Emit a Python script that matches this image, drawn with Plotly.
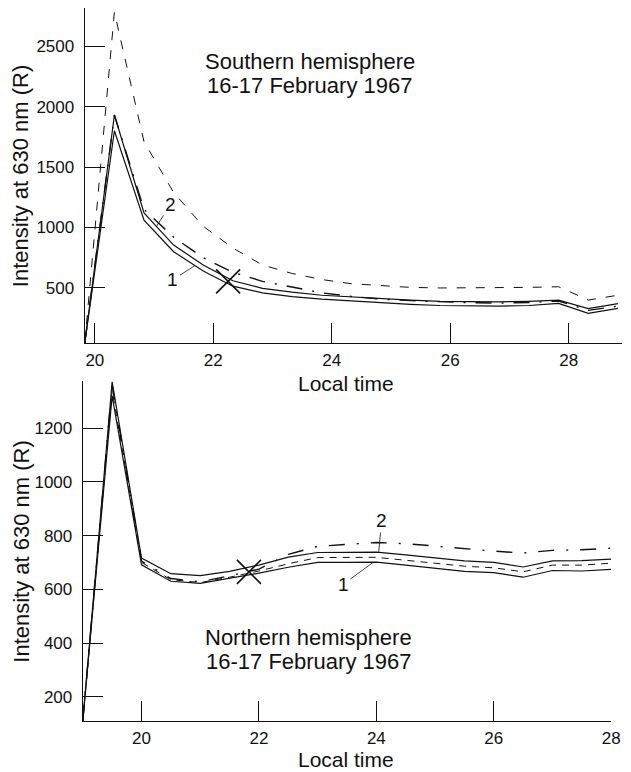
import numpy as np
import plotly.graph_objects as go

# ---------------- Southern hemisphere (top panel) ----------------
s_time = [19.83, 20.33, 20.83, 21.33, 21.83, 22.33, 22.83, 23.33, 23.83, 24.33,
          24.83, 25.33, 25.83, 26.33, 26.83, 27.33, 27.83, 28.33, 28.83]
s_curve1 = [45, 1800, 1060, 800, 640, 515, 460, 428, 408, 392,
            378, 365, 355, 350, 350, 355, 372, 290, 332]
s_curve2 = [45, 1930, 1120, 855, 690, 560, 497, 465, 440, 425,
            412, 400, 390, 385, 385, 390, 400, 330, 370]
s_dashdot = [45, 1930, 1150, 920, 750, 630, 555, 505, 460, 430,
             408, 395, 385, 378, 375, 380, 392, 315, 350]
s_dashed = [45, 2780, 1710, 1290, 1010, 830, 690, 620, 570, 535,
            520, 505, 500, 500, 505, 505, 510, 400, 440]
s_cross_t = [22.25]
s_cross_v = [555]

# ---------------- Northern hemisphere (bottom panel) ----------------
n_time = [19.0, 19.5, 20.0, 20.5, 21.0, 21.5, 22.0, 22.5, 23.0, 23.5,
          24.0, 24.5, 25.0, 25.5, 26.0, 26.5, 27.0, 27.5, 28.0]
n_curve1 = [110, 1320, 691, 630, 622, 640, 660, 682, 700, 700,
            701, 690, 678, 667, 662, 645, 670, 668, 674]
n_curve2 = [110, 1372, 716, 658, 651, 667, 690, 720, 737, 737,
            738, 728, 717, 706, 700, 683, 706, 707, 712]
n_dashed = [110, 1340, 700, 636, 625, 645, 668, 695, 718, 718,
            719, 708, 697, 686, 680, 665, 690, 690, 697]
n_dashdot = [110, 1360, 705, 640, 628, 650, 675, 730, 760, 768,
             774, 770, 760, 750, 742, 735, 745, 747, 753]
n_cross_t = [21.83]
n_cross_v = [665]

s_yticks = [500, 1000, 1500, 2000, 2500]
n_yticks = [200, 400, 600, 800, 1000, 1200]
xticks = [20, 22, 24, 26, 28]

W, H = 631, 772
FONT = "Liberation Sans, Arial, Helvetica, sans-serif"
BLACK = "#111111"

fig = go.Figure()

def add_line(x, y, xa, ya, dash="solid", width=1.2):
    fig.add_trace(go.Scatter(x=x, y=y, mode="lines", xaxis=xa, yaxis=ya,
                             line=dict(color=BLACK, width=width, dash=dash),
                             hoverinfo="skip", showlegend=False))

# top panel
add_line(s_time, s_dashed, "x", "y", dash="9px,10px", width=1.0)
add_line(s_time, s_dashdot, "x", "y", dash="16px,10px,2px,10px", width=1.4)
add_line(s_time, s_curve2, "x", "y")
add_line(s_time, s_curve1, "x", "y")
fig.add_trace(go.Scatter(x=s_cross_t, y=s_cross_v, mode="markers", xaxis="x", yaxis="y",
                         marker=dict(symbol="x-thin", size=24, line=dict(color=BLACK, width=1.6)),
                         hoverinfo="skip", showlegend=False))

# bottom panel
add_line(n_time, n_dashed, "x2", "y2", dash="7px,6px", width=1.0)
add_line(n_time, n_dashdot, "x2", "y2", dash="16px,12px,2px,12px", width=1.4)
add_line(n_time, n_curve2, "x2", "y2")
add_line(n_time, n_curve1, "x2", "y2")
fig.add_trace(go.Scatter(x=n_cross_t, y=n_cross_v, mode="markers", xaxis="x2", yaxis="y2",
                         marker=dict(symbol="x-thin", size=24, line=dict(color=BLACK, width=1.6)),
                         hoverinfo="skip", showlegend=False))

top_dom_y = [1 - 343 / H, 1 - 8 / H]
bot_dom_y = [1 - 721 / H, 1 - 381 / H]

axis_common = dict(showline=True, linecolor=BLACK, linewidth=1.3, ticks="inside",
                   ticklen=20, tickwidth=1.1, tickcolor=BLACK, showgrid=False,
                   zeroline=False, tickfont=dict(family=FONT, size=17, color=BLACK))

fig.update_layout(
    width=W, height=H, autosize=False,
    margin=dict(l=0, r=0, t=0, b=0),
    paper_bgcolor="white", plot_bgcolor="white",
    showlegend=False,
    font=dict(family=FONT, color=BLACK),
    xaxis=dict(domain=[86 / W, 1.0], range=[19.83, 28.9], tickvals=xticks,
               anchor="y", ticklabelstandoff=1, **axis_common),
    yaxis=dict(domain=top_dom_y, range=[45, 2815], tickvals=s_yticks,
               anchor="x", ticklabelstandoff=6, **axis_common),
    xaxis2=dict(domain=[84 / W, 620 / W], range=[19, 28], tickvals=xticks,
                anchor="y2", ticklabelstandoff=1, **axis_common),
    yaxis2=dict(domain=bot_dom_y, range=[110, 1375], tickvals=n_yticks,
                anchor="x2", ticklabelstandoff=6, **axis_common),
)

ann = []
def paper_text(text, xpx, ypx, size=22, angle=0):
    ann.append(dict(text=text, x=xpx / W, y=1 - ypx / H, xref="paper", yref="paper",
                    showarrow=False, textangle=angle, xanchor="center", yanchor="middle",
                    font=dict(family=FONT, size=size, color=BLACK)))

paper_text("Intensity at 630 nm (R)", 21, (8 + 343) / 2, angle=-90)
paper_text("Intensity at 630 nm (R)", 21, (381 + 721) / 2, angle=-90)
paper_text("Local time", 351, 383, size=21)
paper_text("Local time", 351, 759, size=21)
paper_text("Southern hemisphere", 314, 62)
paper_text("16-17 February 1967", 314, 86)
paper_text("Northern hemisphere", 313, 637)
paper_text("16-17 February 1967", 313, 661)

def curve_label(text, t, times, vals, xa, ya, ax, ay):
    v = float(np.interp(t, times, vals))
    ann.append(dict(text=text, x=t, y=v, xref=xa, yref=ya, showarrow=True,
                    arrowhead=0, arrowwidth=0.8, arrowcolor=BLACK, standoff=0,
                    ax=ax, ay=ay, font=dict(family=FONT, size=19, color=BLACK)))

curve_label("2", 21.04, s_time, s_curve2, "x", "y", 14, -22)
curve_label("1", 21.69, s_time, s_curve1, "x", "y", -22, 14)
curve_label("2", 24.04, n_time, n_curve2, "x2", "y2", 3, -32)
curve_label("1", 23.95, n_time, n_curve1, "x2", "y2", -30, 22)

fig.update_layout(annotations=ann)

fig.write_html("out.html")
